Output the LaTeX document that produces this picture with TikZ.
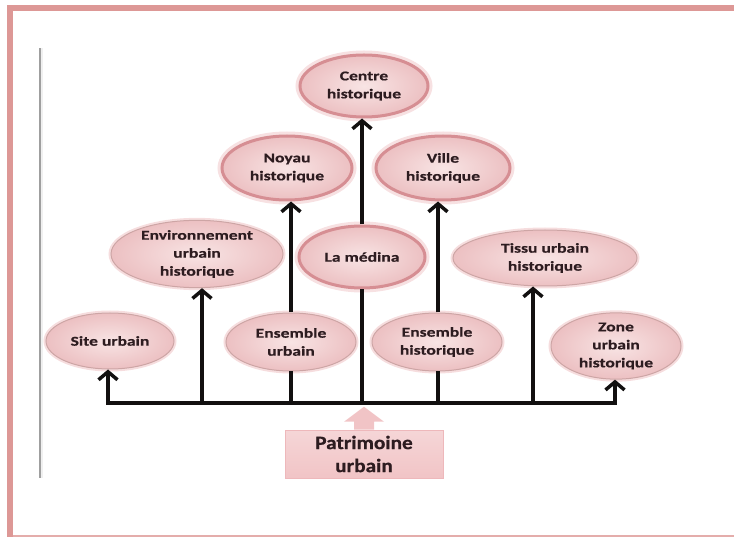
\documentclass[tikz,border=0pt]{standalone}
\usepackage{fontspec}
\newfontfamily\nodefont[FakeStretch=1.3,FakeBold=0.6]{Carlito Bold}
\newfontfamily\patfont[FakeStretch=1.12,FakeBold=0.6]{Carlito Bold}
\usetikzlibrary{shapes.geometric,arrows.meta}
\definecolor{framepink}{RGB}{221,152,150}
\definecolor{txt}{RGB}{45,28,32}
\definecolor{innerpink}{RGB}{248,228,228}
\definecolor{outerpink}{RGB}{236,192,194}
\definecolor{rimpink}{RGB}{214,142,147}
\definecolor{thinrim}{RGB}{205,165,165}
\definecolor{glowpink}{RGB}{235,180,182}
\definecolor{blockpink}{RGB}{241,196,198}
\definecolor{linecol}{RGB}{18,16,16}
\begin{document}
\begin{tikzpicture}[x=1pt,y=-1pt,
  ell/.style={ellipse, inner sep=0pt, align=center, text=txt,
    font=\nodefont\fontsize{13.5}{18}\selectfont,
    inner color=innerpink, outer color=outerpink},
  lowell/.style={ell, draw=thinrim, line width=1pt,
    preaction={draw=glowpink, line width=5pt, opacity=0.45}},
  topell/.style={ell, draw=rimpink, line width=3pt,
    preaction={draw=glowpink, line width=9pt, opacity=0.4}},
  conn/.style={draw=linecol, line width=3.5pt},
  arr/.style={conn, -{Straight Barb[length=8pt,width=19pt]}}
]
\useasboundingbox (0,0) rectangle (734,537);
% frame
\fill[framepink] (7,5) rectangle (734,11);
\fill[framepink] (7,5) rectangle (13,537);
\fill[framepink!80] (13,534.5) rectangle (734,536.5);
\fill[gray!75] (39,48) rectangle (40.5,478);
\fill[gray!12] (40.5,48) rectangle (43,478);

% nodes
\node[topell, minimum width=128pt, minimum height=62pt] (centre) at (364,86) {Centre\\historique};
\node[topell, minimum width=130pt, minimum height=64pt] (noyau) at (287,168) {Noyau\\historique};
\node[topell, minimum width=134pt, minimum height=64pt] (ville) at (443,168) {Ville\\historique};
\node[topell, minimum width=126pt, minimum height=62pt] (medina) at (362,257) {La médina};
\node[lowell, minimum width=172pt, minimum height=56pt] (env) at (197,254) {Environnement\\urbain\\historique};
\node[lowell, minimum width=184pt, minimum height=56pt] (tissu) at (545,258) {Tissu urbain\\historique};
\node[lowell, minimum width=128pt, minimum height=56pt] (site) at (110,341) {Site urbain};
\node[lowell, minimum width=130pt, minimum height=58pt] (ensu) at (291,342) {Ensemble\\urbain};
\node[lowell, minimum width=130pt, minimum height=58pt] (ensh) at (437,342) {Ensemble\\historique};
\node[lowell, minimum width=130pt, minimum height=60pt] (zone) at (616,346) {Zone\\urbain\\historique};

% base line coordinates
\coordinate (b1) at (108,403);
\coordinate (b2) at (202,403);
\coordinate (b3) at (291,403);
\coordinate (b4) at (362,403);
\coordinate (b5) at (438,403);
\coordinate (b6) at (533,403);
\coordinate (b7) at (615,403);
\draw[conn, line cap=rect] (b1) -- (b7);

\draw[arr] (b1) -- (b1 |- site.south);
\draw[arr] (b2) -- (b2 |- env.south);
\draw[conn] (b3) -- (b3 |- ensu.south);
\draw[arr] (b3 |- ensu.north) -- (b3 |- noyau.south);
\draw[conn] (b4) -- (b4 |- medina.south);
\draw[arr] (b4 |- medina.north) -- (b4 |- centre.south);
\draw[conn] (b5) -- (b5 |- ensh.south);
\draw[arr] (b5 |- ensh.north) -- (b5 |- ville.south);
\draw[arr] (b6) -- (b6 |- tissu.south);
\draw[arr] (b7) -- (b7 |- zone.south);

% Patrimoine urbain
\node[rectangle, minimum width=158pt, minimum height=48pt, inner sep=0pt,
  top color=blockpink!70, bottom color=blockpink, draw=blockpink!120, line width=0.6pt,
  align=center, text=txt, font=\patfont\fontsize{19}{23}\selectfont] (pat) at (364,454) {Patrimoine\\urbain};
\fill[blockpink] (pat.north) ++(-10,0) -- ++(0,-8) -- ++(-10,0) -- ++(20,-15) -- ++(20,15) -- ++(-10,0) -- ++(0,8) -- cycle;
\end{tikzpicture}
\end{document}
